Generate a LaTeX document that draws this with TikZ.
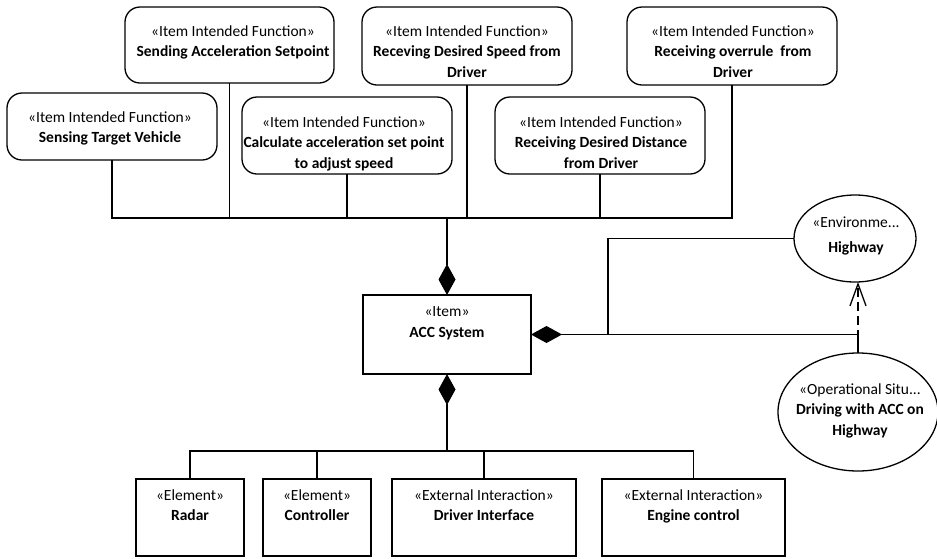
\documentclass[tikz,border=0pt]{standalone}
\usepackage{fontspec}
\setmainfont{Carlito}
\usetikzlibrary{arrows.meta,shapes.geometric}
\begin{document}
\begin{tikzpicture}[x=1pt,y=-1pt,
  every node/.style={inner sep=0pt, outer sep=0pt},
  conn/.style={line width=1.3pt},
  func/.style={draw, line width=1.3pt, rounded corners=15pt, fill=white},
  blk/.style={draw, line width=1.3pt, fill=white},
  oval/.style={draw, ellipse, line width=1.3pt, fill=white},
  lbl/.style={anchor=north, align=center, font=\fontsize{15.5}{20.5}\selectfont},
  comp/.style={{Diamond[length=31pt,width=17pt]}-},
  dep/.style={dash pattern=on 9pt off 5pt, -{Straight Barb[length=22pt,width=16pt]}},
]
\useasboundingbox (0,0) rectangle (937,558);
\clip (0,0) rectangle (937,558);

% item intended functions
\node[func, minimum width=209, minimum height=76] (send)  at (229.5,45) {};
\node[func, minimum width=210, minimum height=78] (speed) at (467,46) {};
\node[func, minimum width=210, minimum height=78] (over)  at (732,46) {};
\node[func, minimum width=210, minimum height=67] (sense) at (112,126.5) {};
\node[func, minimum width=210, minimum height=77] (calc)  at (347,135.5) {};
\node[func, minimum width=210, minimum height=77] (dist)  at (600,135.5) {};

\node[lbl] (sendT)  at (233,25.5)  {«Item Intended Function»\\\textbf{Sending Acceleration Setpoint}};
\node[lbl] (speedT) at (467,25.5)  {«Item Intended Function»\\\textbf{Receving Desired Speed from}\\\textbf{Driver}};
\node[lbl] (overT)  at (733,25.5)  {«Item Intended Function»\\\textbf{Receiving overrule~ from}\\\textbf{Driver}};
\node[lbl] (senseT) at (110,111.5) {«Item Intended Function»\\\textbf{Sensing Target Vehicle}};
\node[lbl] (calcT)  at (344,116.5) {«Item Intended Function»\\\textbf{Calculate acceleration set point}\\\textbf{to adjust speed}};
\node[lbl] (distT)  at (601,116.5) {«Item Intended Function»\\\textbf{Receiving Desired Distance}\\\textbf{from Driver}};

% the item
\node[blk, minimum width=168, minimum height=79] (acc) at (447,334.5) {};
\node[lbl] (accT) at (447,306.5) {«Item»\\[1pt]\textbf{ACC System}};

% environment and operational situation
\node[oval, minimum width=122, minimum height=87]  (env) at (855,238.5) {};
\node[lbl] (envT) at (856,216.5) {«Environme...\\[5pt]\textbf{Highway}};
\node[oval, minimum width=160, minimum height=118] (ops) at (858,412) {};
\node[lbl] (opsT) at (860,383.5) {«Operational Situ...\\\textbf{Driving with ACC on}\\\textbf{Highway}};

% elements and external interactions
\node[blk, minimum width=108, minimum height=77] (radar) at (190,517.5) {};
\node[blk, minimum width=108, minimum height=77] (ctrl)  at (317,517.5) {};
\node[blk, minimum width=184, minimum height=77] (drv)   at (484,517.5) {};
\node[blk, minimum width=183, minimum height=77] (eng)   at (693.5,517.5) {};
\node[lbl] (radarT) at (190,489.5)   {«Element»\\\textbf{Radar}};
\node[lbl] (ctrlT)  at (317,489.5)   {«Element»\\\textbf{Controller}};
\node[lbl] (drvT)   at (484,489.5)   {«External Interaction»\\\textbf{Driver Interface}};
\node[lbl] (engT)   at (693.5,489.5) {«External Interaction»\\\textbf{Engine control}};

% bus levels and branch column
\coordinate (topbus) at (0,218);
\coordinate (botbus) at (0,451);
\coordinate (branch) at (608,0);

% upper composition tree
\draw[conn] (sense.south) -- (sense.south |- topbus) -- (over.south |- topbus) -- (over.south);
\draw[conn] (send.south)  -- (send.south |- topbus);
\draw[conn] (calc.south)  -- (calc.south |- topbus);
\draw[conn] (speed.south) -- (speed.south |- topbus);
\draw[conn] (dist.south)  -- (dist.south |- topbus);
\draw[conn, comp] (acc.north) -- (acc.north |- topbus);

% composition to the operational situation and the environment
\draw[conn, comp] (acc.east) -- (acc.east -| ops.north) -- (ops.north);
\draw[conn] (branch |- acc.east) |- (env.west);
\draw[conn, dep] (ops.north) -- (ops.north |- env.south);

% lower composition tree
\draw[conn, comp] (acc.south) -- (acc.south |- botbus);
\draw[conn] (radar.north) -- (radar.north |- botbus) -- (eng.north |- botbus) -- (eng.north);
\draw[conn] (ctrl.north) -- (ctrl.north |- botbus);
\draw[conn] (drv.north)  -- (drv.north |- botbus);
\end{tikzpicture}
\end{document}
